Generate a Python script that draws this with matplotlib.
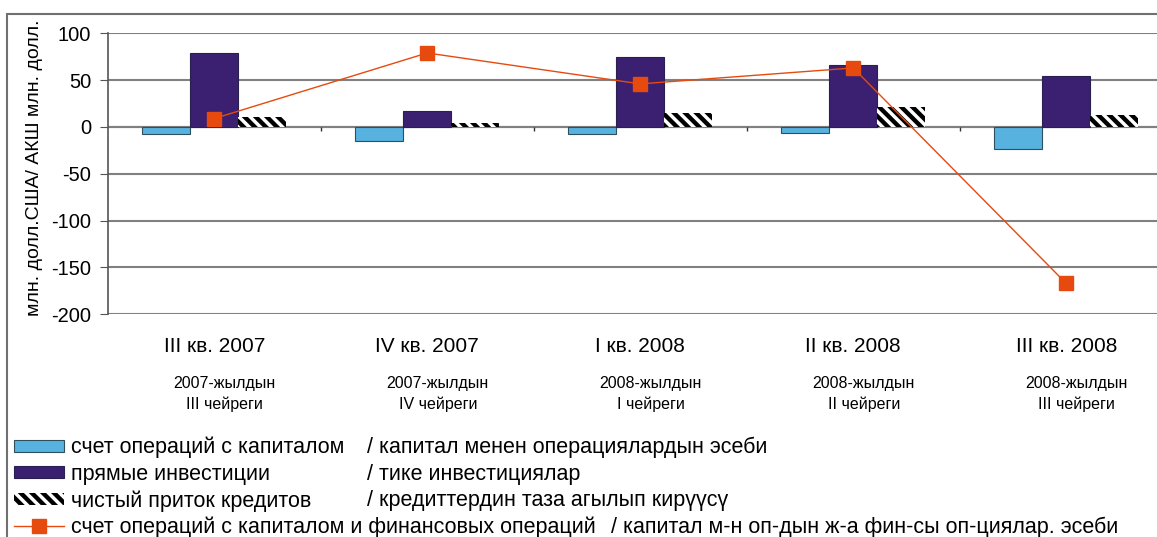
import numpy as np
import matplotlib
matplotlib.use('Agg')
import matplotlib.pyplot as plt
from matplotlib.patches import Rectangle
from matplotlib.lines import Line2D
import matplotlib.transforms as mtransforms

plt.rcParams['font.family'] = ['Liberation Sans', 'DejaVu Sans']
plt.rcParams['axes.unicode_minus'] = False
plt.rcParams['hatch.linewidth'] = 2.5
plt.rcParams['hatch.color'] = 'white'

# data
quarters = ['III кв. 2007', 'IV кв. 2007', 'I кв. 2008', 'II кв. 2008', 'III кв. 2008']
quarters_kg = ['2007-жылдын\nIII чейреги', '2007-жылдын\nIV чейреги', '2008-жылдын\nI чейреги',
               '2008-жылдын\nII чейреги', '2008-жылдын\nIII чейреги']
capital_ops = [-8, -15, -8, -6, -23]
direct_inv = [79, 17, 75, 66, 54]
net_credit = [11, 4, 15, 21, 13]
total_ops = [9, 79, 46, 63, -167]

labels_ru = ['счет операций с капиталом', 'прямые инвестиции', 'чистый приток кредитов',
             'счет операций с капиталом и финансовых операций']
labels_kg = ['/ капитал менен операциялардын эсеби', '/ тике инвестициялар',
             '/ кредиттердин таза агылып кирүүсү', '/ капитал м-н оп-дын ж-а фин-сы оп-циялар. эсеби']

blue = '#58B2E0'
purple = '#3B1F70'
orange = '#E64A0E'

fig = plt.figure(figsize=(11.57, 5.37), dpi=100)
# outer chart frame (cropped at right and bottom in the original)
fig.patches.append(Rectangle((7 / 1157, -0.1), 1.2, 1 - 14 / 537 + 0.1, transform=fig.transFigure,
                             fill=False, edgecolor='#707070', linewidth=1.5))

ax = fig.add_axes([107.7 / 1157, 1 - 314.3 / 537, 1065 / 1157, (314.3 - 33.3) / 537])
x = np.arange(len(quarters))
w = 0.225

ax.bar(x - w, capital_ops, w, color=blue, edgecolor='#2f4f5f', linewidth=0.8, zorder=3)
ax.bar(x, direct_inv, w, color=purple, edgecolor='#2a2050', linewidth=0.8, zorder=3)
ax.bar(x + w, net_credit, w, color='black', hatch='\\\\\\', edgecolor='white', linewidth=0, zorder=3)
ax.plot(x, total_ops, color=orange, linewidth=1, marker='s', markersize=9.5, zorder=4)

ax.set_xlim(-0.5, 4.5)
ax.set_ylim(-200, 100)
ax.set_yticks(np.arange(-200, 101, 50))
ax.tick_params(axis='y', labelsize=14.5, length=6, color='#555555', pad=6)
ax.set_xticks([])
ax.grid(axis='y', color='#808080', linewidth=1.5, zorder=0)
ax.axhline(0, color='#808080', linewidth=1.5, zorder=2)
ax.vlines(x[:-1] + 0.5, -4, 0, color='#333333', linewidth=1, zorder=2)
for side in ['top', 'right', 'bottom']:
    ax.spines[side].set_visible(False)
ax.spines['left'].set_color('#555555')
ax.spines['left'].set_linewidth(1.2)
ax.set_ylabel('млн. долл.США/ АКШ млн. долл.', fontsize=14)
ax.yaxis.set_label_coords(-0.061, 0.52)

trans = mtransforms.blended_transform_factory(ax.transData, fig.transFigure)
for i, (q, qk) in enumerate(zip(quarters, quarters_kg)):
    ax.text(i, 1 - 347 / 537, q, transform=trans, ha='center', va='center', fontsize=15)
    ax.text(i + 0.05, 1 - 394 / 537, qk, transform=trans, ha='center', va='center',
            fontsize=11.5, linespacing=1.5)

handles = [Rectangle((0, 0), 1, 1, facecolor=blue, edgecolor='#2f4f5f', linewidth=0.8),
           Rectangle((0, 0), 1, 1, facecolor=purple, edgecolor='#2a2050', linewidth=0.8),
           Rectangle((0, 0), 1, 1, facecolor='black', hatch='\\\\\\', edgecolor='white', linewidth=0),
           Line2D([], [], color=orange, linewidth=1, marker='s', markersize=9.5)]
leg = fig.legend(handles, labels_ru, loc='upper left', bbox_to_anchor=(14 / 1157, 1 - 437 / 537),
                 frameon=False, fontsize=15.5, handlelength=2.3, handleheight=0.5,
                 handletextpad=0.35, labelspacing=0.245, borderaxespad=0, borderpad=0)

fig.canvas.draw()
kg_x = [367, 367, 367, 611]
inv = fig.transFigure.inverted()
for txt, lab, kx in zip(leg.get_texts(), labels_kg, kg_x):
    bb = txt.get_window_extent()
    yc = inv.transform((0, (bb.y0 + bb.y1) / 2))[1]
    fig.text(kx / 1157, yc, lab, ha='left', va='center', fontsize=15.5)

fig.savefig('out.png', dpi=100)
